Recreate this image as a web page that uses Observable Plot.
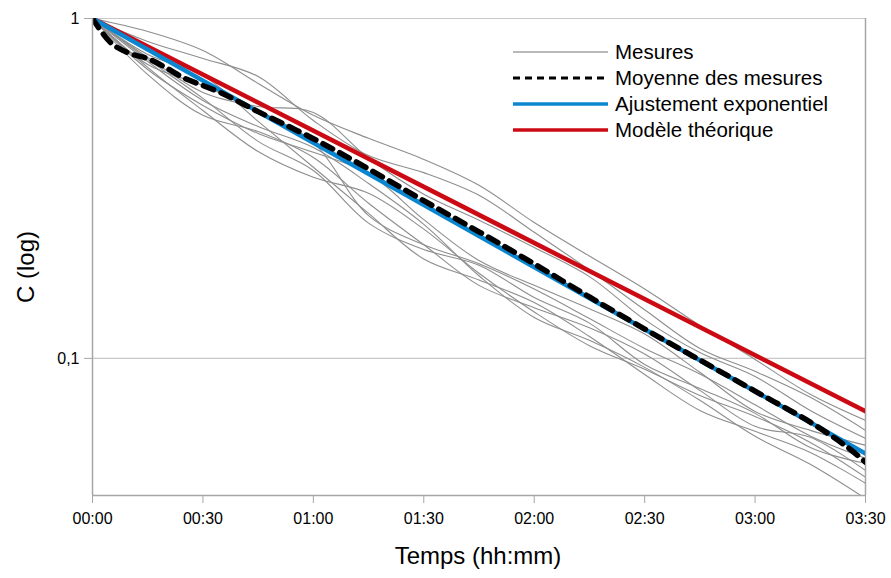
<!DOCTYPE html>
<html>
<head>
<meta charset="utf-8">
<script src="https://cdn.jsdelivr.net/npm/d3@7"></script>
<script src="https://cdn.jsdelivr.net/npm/@observablehq/plot@0.6"></script>
<style>
  body { margin: 0; background: white; }
  #wrap { position: relative; width: 891px; height: 578px; }
  #legend { position: absolute; left: 0; top: 0; pointer-events: none; }
</style>
</head>
<body>
<div id="wrap"></div>
<script>
// ---- data (minutes, concentration) ----
const times = [0, 15, 30, 45, 60, 75, 90, 105, 120, 135, 150, 165, 180, 195, 210];
const mesureA = [1, 0.916, 0.805, 0.644, 0.519, 0.444, 0.385, 0.323, 0.251, 0.200, 0.160, 0.125, 0.0993, 0.0784, 0.0657];
const mesureB = [1, 0.856, 0.763, 0.675, 0.501, 0.395, 0.352, 0.302, 0.235, 0.182, 0.139, 0.107, 0.0916, 0.0768, 0.0614];
const mesureC = [1, 0.768, 0.606, 0.551, 0.529, 0.388, 0.304, 0.255, 0.212, 0.174, 0.130, 0.104, 0.0885, 0.0703, 0.0582];
const mesureD = [1, 0.732, 0.635, 0.533, 0.432, 0.263, 0.216, 0.190, 0.160, 0.131, 0.107, 0.090, 0.0730, 0.0591, 0.0508];
const mesureE = [1, 0.708, 0.555, 0.459, 0.404, 0.350, 0.256, 0.194, 0.164, 0.140, 0.118, 0.0910, 0.0698, 0.0614, 0.0555];
const mesureF = [1, 0.758, 0.582, 0.435, 0.357, 0.250, 0.209, 0.188, 0.151, 0.127, 0.0960, 0.0816, 0.0689, 0.0547, 0.0491];
const mesureG = [1, 0.684, 0.519, 0.465, 0.390, 0.286, 0.216, 0.164, 0.141, 0.123, 0.103, 0.0805, 0.0631, 0.0586, 0.0468];
const mesureH = [1, 0.718, 0.536, 0.406, 0.341, 0.306, 0.240, 0.178, 0.137, 0.109, 0.0929, 0.0778, 0.0675, 0.0566, 0.0447];
const mesureI = [1, 0.784, 0.680, 0.498, 0.365, 0.267, 0.196, 0.170, 0.146, 0.116, 0.0897, 0.0703, 0.0610, 0.0529, 0.0429];
const mesureJ = [1, 0.747, 0.574, 0.481, 0.417, 0.327, 0.248, 0.175, 0.132, 0.113, 0.0941, 0.0753, 0.0590, 0.0488, 0.0387];

const meanTimes  = [0, 5, 10, 15, 20, 25, 30, 35, 40, 45, 60, 75, 90, 105, 120, 135, 150, 165, 180, 195, 205, 210];
const meanValues = [1, 0.848, 0.790, 0.762, 0.716, 0.667, 0.635, 0.604, 0.567, 0.532, 0.443, 0.361, 0.291, 0.2357, 0.1897, 0.1516, 0.1220, 0.0989, 0.0801, 0.0649, 0.0549, 0.0495];

const fitTimes = [0, 210];
const fitValues = [1, 0.0525];     // Ajustement exponentiel
const modelValues = [1, 0.0699];   // Modèle théorique

const xTicks = [0, 30, 60, 90, 120, 150, 180, 210];
const yTicks = [0.1, 1];
const yDomain = [0.0395, 1];

const legendLabels = ["Mesures", "Moyenne des mesures", "Ajustement exponentiel", "Modèle théorique"];
const xTitle = "Temps (hh:mm)";
const yTitle = "C (log)";

// ---- build tables ----
const mesures = [mesureA, mesureB, mesureC, mesureD, mesureE, mesureF, mesureG, mesureH, mesureI, mesureJ];
const mesureRows = mesures.flatMap((vals, k) => vals.map((v, i) => ({id: k, t: times[i], c: v})));
const meanRows = meanTimes.map((t, i) => ({t, c: meanValues[i]}));
const fitRows = fitTimes.map((t, i) => ({t, c: fitValues[i]}));
const modelRows = fitTimes.map((t, i) => ({t, c: modelValues[i]}));

const fmtTime = m => String(Math.floor(m / 60)).padStart(2, "0") + ":" + String(m % 60).padStart(2, "0");

const RED = "#cc0a14", BLUE = "#0a86d0", GRAY = "#8e8e8e", AXIS = "#a6a6a6";
const FONT = "'Liberation Sans', Arial, sans-serif";

const chart = Plot.plot({
  width: 891,
  height: 578,
  marginLeft: 92,
  marginRight: 26,
  marginTop: 18,
  marginBottom: 83,
  style: {fontFamily: FONT, fontSize: "16px", background: "white", color: "black"},
  x: {type: "linear", domain: [0, 210]},
  y: {type: "log", domain: yDomain},
  marks: [
    Plot.ruleY(yTicks, {stroke: "#c8c8c8", strokeWidth: 1.2}),
    Plot.ruleX([210], {stroke: AXIS, strokeWidth: 1.5}),
    Plot.line(mesureRows, {x: "t", y: "c", z: "id", stroke: GRAY, strokeWidth: 1.1, curve: "catmull-rom", clip: true}),
    Plot.line(modelRows, {x: "t", y: "c", stroke: RED, strokeWidth: 4.5, clip: true}),
    Plot.line(fitRows, {x: "t", y: "c", stroke: BLUE, strokeWidth: 4.5, clip: true}),
    Plot.line(meanRows, {x: "t", y: "c", stroke: "black", strokeWidth: 5.5, strokeDasharray: "11,8", curve: "catmull-rom", clip: true}),
    Plot.ruleX([0], {stroke: AXIS, strokeWidth: 1.5}),
    Plot.ruleY([yDomain[0]], {stroke: AXIS, strokeWidth: 1.5}),
    Plot.axisX({ticks: xTicks, tickFormat: fmtTime, tickSize: 8, tickPadding: 9, fontSize: 16, stroke: AXIS, label: null}),
    Plot.axisY({ticks: yTicks, tickFormat: d => String(d).replace(".", ","), tickSize: 8, tickPadding: 5, fontSize: 16, stroke: AXIS, label: null})
  ]
});

const wrap = document.getElementById("wrap");
wrap.appendChild(chart);

// ---- legend and axis titles (overlay) ----
const ns = "http://www.w3.org/2000/svg";
const leg = document.createElementNS(ns, "svg");
leg.setAttribute("id", "legend");
leg.setAttribute("width", 891);
leg.setAttribute("height", 578);
const styles = [
  {stroke: "#a0a0a0", width: 1.5, dash: null},
  {stroke: "black", width: 3, dash: "7,5"},
  {stroke: BLUE, width: 3.5, dash: null},
  {stroke: RED, width: 3.5, dash: null}
];
function addText(str, x, y, size, rot) {
  const tx = document.createElementNS(ns, "text");
  tx.setAttribute("x", 0); tx.setAttribute("y", 0);
  tx.setAttribute("dy", "0.35em");
  tx.setAttribute("font-family", FONT);
  tx.setAttribute("font-size", size);
  tx.setAttribute("transform", `translate(${x},${y})` + (rot ? ` rotate(${rot})` : ""));
  return tx;
}
legendLabels.forEach((lab, i) => {
  const y = 52 + i * 26;
  const ln = document.createElementNS(ns, "line");
  ln.setAttribute("x1", 513); ln.setAttribute("x2", 608);
  ln.setAttribute("y1", y); ln.setAttribute("y2", y);
  ln.setAttribute("stroke", styles[i].stroke);
  ln.setAttribute("stroke-width", styles[i].width);
  if (styles[i].dash) ln.setAttribute("stroke-dasharray", styles[i].dash);
  leg.appendChild(ln);
  const tx = addText(lab, 615, y, 20.5, 0);
  tx.textContent = lab;
  leg.appendChild(tx);
});
const xt = addText(xTitle, 478, 556, 24, 0);
xt.setAttribute("text-anchor", "middle");
xt.textContent = xTitle;
leg.appendChild(xt);
const yt = addText(yTitle, 26, 267, 24, -90);
yt.setAttribute("text-anchor", "middle");
yt.textContent = yTitle;
leg.appendChild(yt);
wrap.appendChild(leg);
</script>
</body>
</html>
